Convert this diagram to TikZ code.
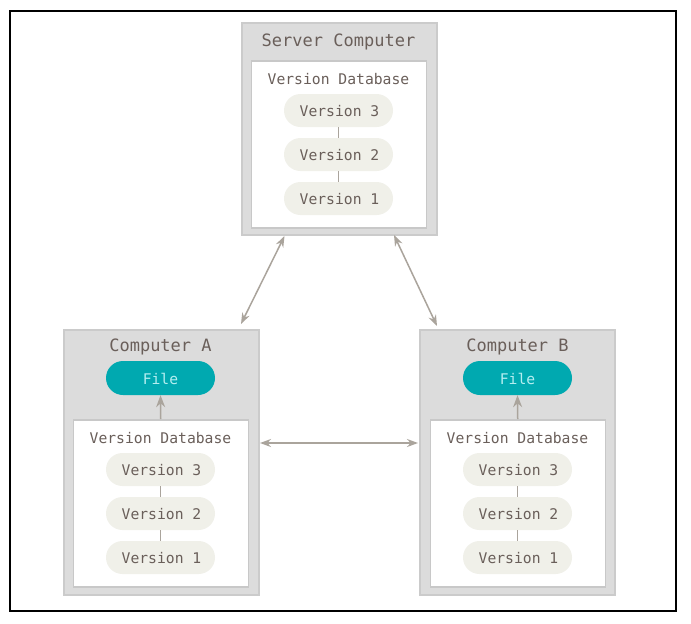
\documentclass[tikz,border=0pt]{standalone}
\usepackage{fontspec}
\setmonofont{DejaVu Sans Mono}
\usetikzlibrary{arrows.meta,calc}
\definecolor{boxfill}{HTML}{DCDCDC}
\definecolor{boxline}{HTML}{CBCBCB}
\definecolor{innerline}{HTML}{C8C8C8}
\definecolor{pillfill}{HTML}{F0F0E9}
\definecolor{txt}{HTML}{6A5F5A}
\definecolor{teal}{HTML}{00A9B0}
\definecolor{filetxt}{HTML}{B5EEF0}
\definecolor{arrowc}{HTML}{AAA49C}
\tikzset{
  x=1pt,y=-1pt,
  outerbox/.style={draw=boxline,line width=2pt,fill=boxfill,minimum width=195pt,inner sep=0pt,anchor=north west},
  innerbox/.style={draw=innerline,line width=1.5pt,fill=white,minimum width=175pt,minimum height=167pt,inner sep=0pt,anchor=north west},
  pill/.style={rounded corners=16.5pt,fill=pillfill,minimum width=109pt,minimum height=33pt,inner sep=0pt},
  filepill/.style={pill,fill=teal,minimum height=34pt,rounded corners=17pt},
  titletxt/.style={font=\ttfamily\fontsize{17}{18}\selectfont,text=txt,inner sep=0pt},
  dbtxt/.style={font=\ttfamily\fontsize{14.7}{16}\selectfont,text=txt,inner sep=0pt},
  stub/.style={draw=arrowc,line width=1.4pt},
  link/.style={draw=arrowc,line width=1.5pt,{Stealth[length=11pt,width=8pt]}-{Stealth[length=11pt,width=8pt]}},
  uplink/.style={draw=arrowc,line width=1.5pt,-{Stealth[length=12pt,width=9pt]}},
}
\begin{document}
\begin{tikzpicture}
\useasboundingbox (0,0) rectangle (691,624);
\fill[white] (0,0) rectangle (691,624);
\node[draw=black,line width=2.2pt,minimum width=666pt,minimum height=600pt,inner sep=0pt,anchor=north west] (frame) at (8.7,9.8) {};

% Server
\node[outerbox,minimum height=212pt] (srv) at (240.5,22) {};
\node[innerbox] (srvdb) at (250.5,60) {};
\node[titletxt] (srvt) at (338.5,42) {Server Computer};
\node[dbtxt] (srvd) at (338.5,79) {Version Database};
\node[pill] (s3) at (338.5,110.5) {};
\node[pill] (s2) at (338.5,154.5) {};
\node[pill] (s1) at (338.5,198.5) {};
\node[dbtxt] (s3t) at (339.5,111.5) {Version 3};
\node[dbtxt] (s2t) at (339.5,155.5) {Version 2};
\node[dbtxt] (s1t) at (339.5,199.5) {Version 1};
\draw[stub] (s3) -- (s2);
\draw[stub] (s2) -- (s1);

% Computer A
\node[outerbox,minimum height=265pt] (a) at (62.5,329) {};
\node[innerbox] (adb) at (72.5,419) {};
\node[titletxt] (at) at (160.5,347) {Computer A};
\node[filepill] (af) at (160.5,378) {};
\node[dbtxt,text=filetxt] (aft) at (160.5,378.5) {File};
\node[dbtxt] (ad) at (160.5,438) {Version Database};
\node[pill] (a3) at (160.5,469.5) {};
\node[pill] (a2) at (160.5,513.5) {};
\node[pill] (a1) at (160.5,557.5) {};
\node[dbtxt] (a3t) at (161.5,470.5) {Version 3};
\node[dbtxt] (a2t) at (161.5,514.5) {Version 2};
\node[dbtxt] (a1t) at (161.5,558.5) {Version 1};
\draw[stub] (a3) -- (a2);
\draw[stub] (a2) -- (a1);

% Computer B
\node[outerbox,minimum height=265pt] (b) at (418.5,329) {};
\node[innerbox] (bdb) at (429.5,419) {};
\node[titletxt] (bt) at (517.5,347) {Computer B};
\node[filepill] (bf) at (517.5,378) {};
\node[dbtxt,text=filetxt] (bft) at (517.5,378.5) {File};
\node[dbtxt] (bd) at (517.5,438) {Version Database};
\node[pill] (b3) at (517.5,469.5) {};
\node[pill] (b2) at (517.5,513.5) {};
\node[pill] (b1) at (517.5,557.5) {};
\node[dbtxt] (b3t) at (518.5,470.5) {Version 3};
\node[dbtxt] (b2t) at (518.5,514.5) {Version 2};
\node[dbtxt] (b1t) at (518.5,558.5) {Version 1};
\draw[stub] (b3) -- (b2);
\draw[stub] (b2) -- (b1);

% Links
\coordinate (l1s) at (284.5,236);
\coordinate (l1e) at (241,324);
\coordinate (l2s) at (394,235);
\coordinate (l2e) at (437,326);
\coordinate (l3s) at (260,443);
\coordinate (l3e) at (418,443);
\draw[link] (l1s) -- (l1e);
\draw[link] (l2s) -- (l2e);
\draw[link] (l3s) -- (l3e);
\draw[uplink] (adb.north) -- (af.south);
\draw[uplink] (bdb.north) -- (bf.south);
\end{tikzpicture}
\end{document}
